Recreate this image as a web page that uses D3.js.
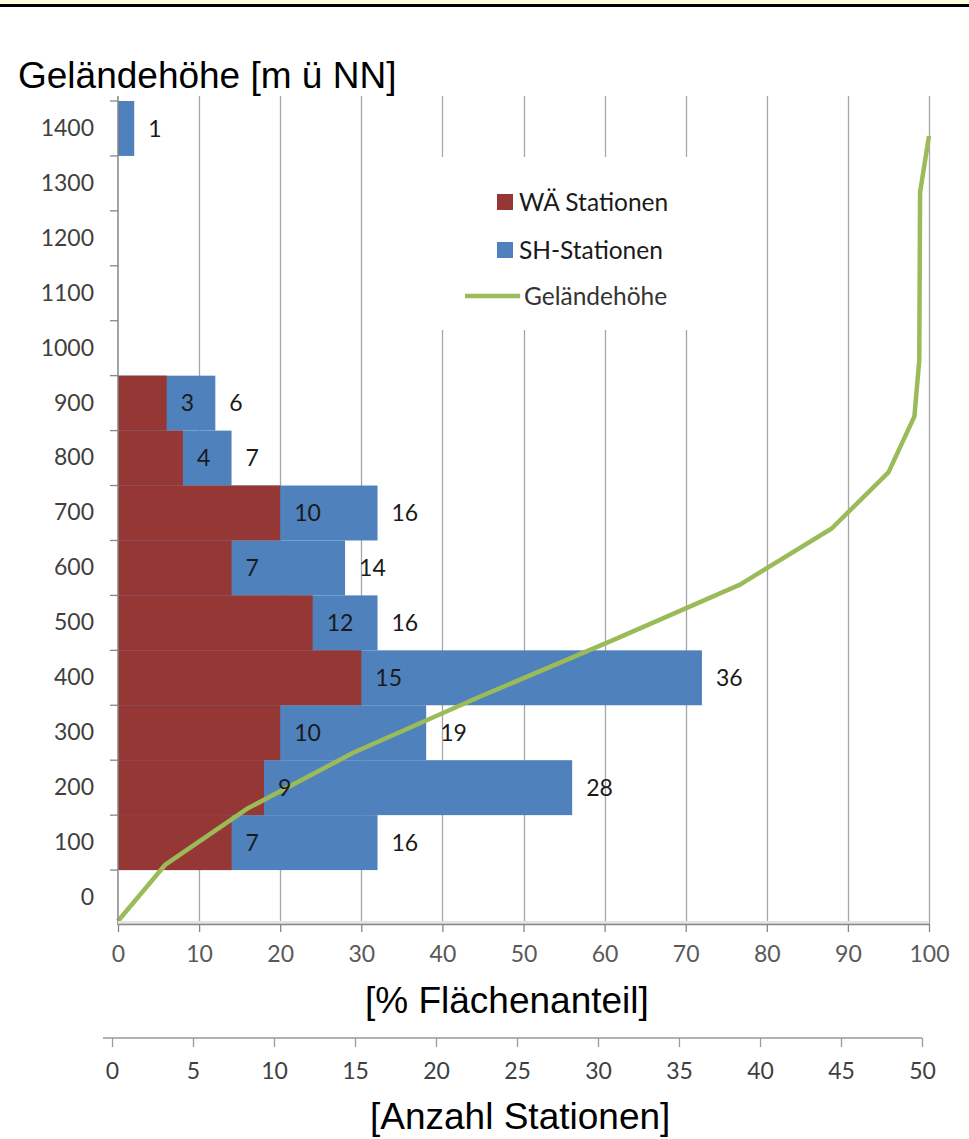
<!DOCTYPE html>
<html>
<head>
<meta charset="utf-8">
<script src="https://cdn.jsdelivr.net/npm/d3@7"></script>
<style>
  body { margin: 0; background: #ffffff; }
  svg { display: block; }
  .tick-label { font-family: Lato, "Open Sans", sans-serif; font-size: 23px; fill: #404040; }
  .data-label { font-family: Lato, "Open Sans", sans-serif; font-size: 23px; fill: #1a1a1a; }
  .legend-label { font-family: Lato, "Open Sans", sans-serif; font-size: 24.5px; fill: #1a1a1a; }
  .axis-title { font-family: "Liberation Sans", Arial, sans-serif; font-size: 37px; fill: #000000; }
</style>
</head>
<body>
<svg></svg>
<script>
//Data
const elevations = [0, 100, 200, 300, 400, 500, 600, 700, 800, 900, 1000, 1100, 1200, 1300, 1400];
const shStations = [0, 16, 28, 19, 36, 16, 14, 16, 7, 6, 0, 0, 0, 0, 1];
const waStations = [0, 7, 9, 10, 15, 12, 7, 10, 4, 3, 0, 0, 0, 0, 0];

//Cumulative area share (%) of terrain below each elevation
const lineElevations = [0, 100, 200, 300, 400, 500, 600, 700, 800, 900, 1000, 1300, 1400];
const lineShare = [0, 5.8, 15.9, 29, 44.6, 60.9, 76.7, 88, 95, 98.2, 98.8, 98.9, 100];

const percentTicks = [0, 10, 20, 30, 40, 50, 60, 70, 80, 90, 100];
const countTicks = [0, 5, 10, 15, 20, 25, 30, 35, 40, 45, 50];

const w = 969;
const h = 1139;
const plotLeft = 118;
const plotRight = 929;
const plotTop = 96;
const plotBottom = 924;

const chart = d3.select("svg")
                .attr("width", w)
                .attr("height", h);

//Top strip
chart.append("rect").attr("x", 0).attr("y", 0).attr("width", w).attr("height", 4).attr("fill", "#fffde0");
chart.append("rect").attr("x", 0).attr("y", 4).attr("width", w).attr("height", 3).attr("fill", "#000000");

//Scale Setup
const xScale = d3.scaleLinear()
                 .domain([0, 100])
                 .range([plotLeft, plotRight]);

const countScale = d3.scaleLinear()
                     .domain([0, 50])
                     .range([plotLeft, plotRight]);

// second axis is drawn a few px left of the plot, like in the original
const countAxisScale = d3.scaleLinear()
                         .domain([0, 50])
                         .range([plotLeft - 6, plotRight - 7]);

const yScale = d3.scaleBand()
                 .domain(elevations.slice().reverse())
                 .range([101, 925]);

const lineY = d3.scaleLinear()
                .domain([0, 1400])
                .range([921, 136]);

//Gridlines
chart.append("g")
     .selectAll("line")
     .data(percentTicks.slice(1))
     .enter()
     .append("line")
     .attr("x1", (d) => Math.round(xScale(d)) + 0.5)
     .attr("x2", (d) => Math.round(xScale(d)) + 0.5)
     .attr("y1", plotTop)
     .attr("y2", plotBottom)
     .attr("stroke", "#a6a6a6")
     .attr("stroke-width", 1.3);

//Bars
const bars = elevations.map((e, i) => ({ elev: e, sh: shStations[i], wa: waStations[i] }));

chart.selectAll(".bar-sh")
     .data(bars)
     .enter()
     .append("rect")
     .classed("bar-sh", true)
     .attr("x", countScale(0))
     .attr("y", (d) => yScale(d.elev))
     .attr("width", (d) => countScale(d.sh) - countScale(0))
     .attr("height", yScale.bandwidth())
     .attr("fill", "#4f81bd");

chart.selectAll(".bar-wa")
     .data(bars)
     .enter()
     .append("rect")
     .classed("bar-wa", true)
     .attr("x", countScale(0))
     .attr("y", (d) => yScale(d.elev))
     .attr("width", (d) => countScale(d.wa) - countScale(0))
     .attr("height", yScale.bandwidth())
     .attr("fill", "#953735");

//Line
const line = d3.line()
               .x((d) => xScale(d[1]))
               .y((d) => lineY(d[0]));

chart.append("path")
     .datum(lineElevations.map((e, i) => [e, lineShare[i]]))
     .attr("d", line)
     .attr("fill", "none")
     .attr("stroke", "#9bbb59")
     .attr("stroke-width", 4.5)
     .attr("stroke-linejoin", "round");

//Data labels
chart.selectAll(".label-wa")
     .data(bars.filter((d) => d.wa > 0))
     .enter()
     .append("text")
     .classed("data-label", true)
     .attr("x", (d) => countScale(d.wa) + 14)
     .attr("y", (d) => yScale(d.elev) + yScale.bandwidth() / 2)
     .attr("dy", "0.36em")
     .text((d) => d.wa);

chart.selectAll(".label-sh")
     .data(bars.filter((d) => d.sh > 0))
     .enter()
     .append("text")
     .classed("data-label", true)
     .attr("x", (d) => countScale(d.sh) + 14)
     .attr("y", (d) => yScale(d.elev) + yScale.bandwidth() / 2)
     .attr("dy", "0.36em")
     .text((d) => d.sh);

//Axis Setup
const yAxis = d3.axisLeft(yScale).tickSize(0).tickPadding(24);
const yG = chart.append("g")
                .attr("transform", "translate(" + plotLeft + ", 0)")
                .call(yAxis);
yG.select(".domain").remove();
yG.selectAll("text").attr("class", "tick-label").attr("fill", null);
yG.attr("font-size", null).attr("font-family", null);

// y axis line and tick marks between categories
chart.append("line")
     .attr("x1", plotLeft).attr("x2", plotLeft)
     .attr("y1", plotTop).attr("y2", 925)
     .attr("stroke", "#868686").attr("stroke-width", 1.5);
chart.append("g")
     .selectAll("line")
     .data(elevations)
     .enter()
     .append("line")
     .attr("x1", plotLeft - 8).attr("x2", plotLeft)
     .attr("y1", (d) => yScale(d))
     .attr("y2", (d) => yScale(d))
     .attr("stroke", "#868686").attr("stroke-width", 1.3);

// x axis with light shadow
chart.append("rect")
     .attr("x", plotLeft).attr("y", plotBottom - 3)
     .attr("width", plotRight - plotLeft).attr("height", 3)
     .attr("fill", "#e3e3e3");

const xAxis = d3.axisBottom(xScale).tickValues(percentTicks).tickSize(8).tickSizeOuter(0).tickPadding(14);
const xG = chart.append("g")
                .attr("transform", "translate(0, " + plotBottom + ")")
                .call(xAxis);
xG.attr("font-size", null).attr("font-family", null);
xG.select(".domain").attr("stroke", "#868686").attr("stroke-width", 1.5);
xG.selectAll("line").attr("stroke", "#868686").attr("stroke-width", 1.3);
xG.selectAll("text").attr("class", "tick-label").attr("fill", null).style("fill", "#595959");

const countAxis = d3.axisBottom(countAxisScale).tickValues(countTicks).tickSize(9).tickSizeOuter(0).tickPadding(16);
const cG = chart.append("g")
                .attr("transform", "translate(0, 1038)")
                .call(countAxis);
cG.attr("font-size", null).attr("font-family", null);
cG.select(".domain").attr("d", "M" + (plotLeft - 15) + ",0H" + countAxisScale(50)).attr("stroke", "#9a9a9a").attr("stroke-width", 1.5);
cG.selectAll("line").attr("stroke", "#9a9a9a").attr("stroke-width", 1.3);
cG.selectAll("text").attr("class", "tick-label").attr("fill", null);

//Legend
chart.append("rect")
     .attr("x", 430).attr("y", 157)
     .attr("width", 270).attr("height", 173)
     .attr("fill", "#ffffff");

const legendItems = [
  { label: "WÄ Stationen", color: "#953735", y: 202 },
  { label: "SH-Stationen", color: "#4f81bd", y: 250 }
];
legendItems.forEach((item) => {
  chart.append("rect")
       .attr("x", 497).attr("y", item.y - 8)
       .attr("width", 16).attr("height", 16)
       .attr("fill", item.color);
  chart.append("text")
       .classed("legend-label", true)
       .attr("x", 519).attr("y", item.y)
       .attr("dy", "0.36em")
       .text(item.label);
});
chart.append("line")
     .attr("x1", 465).attr("x2", 520)
     .attr("y1", 296).attr("y2", 296)
     .attr("stroke", "#9bbb59").attr("stroke-width", 4.5);
chart.append("text")
     .classed("legend-label", true)
     .attr("x", 524).attr("y", 296)
     .attr("dy", "0.36em")
     .style("fill", "#333333")
     .text("Geländehöhe");

//Labels Setup
chart.append("text")
     .classed("axis-title", true)
     .attr("x", 18).attr("y", 88)
     .text("Geländehöhe [m ü NN]");

chart.append("text")
     .classed("axis-title", true)
     .attr("x", 365).attr("y", 1013)
     .text("[% Flächenanteil]");

chart.append("text")
     .classed("axis-title", true)
     .attr("x", 370).attr("y", 1129)
     .text("[Anzahl Stationen]");
</script>
</body>
</html>
